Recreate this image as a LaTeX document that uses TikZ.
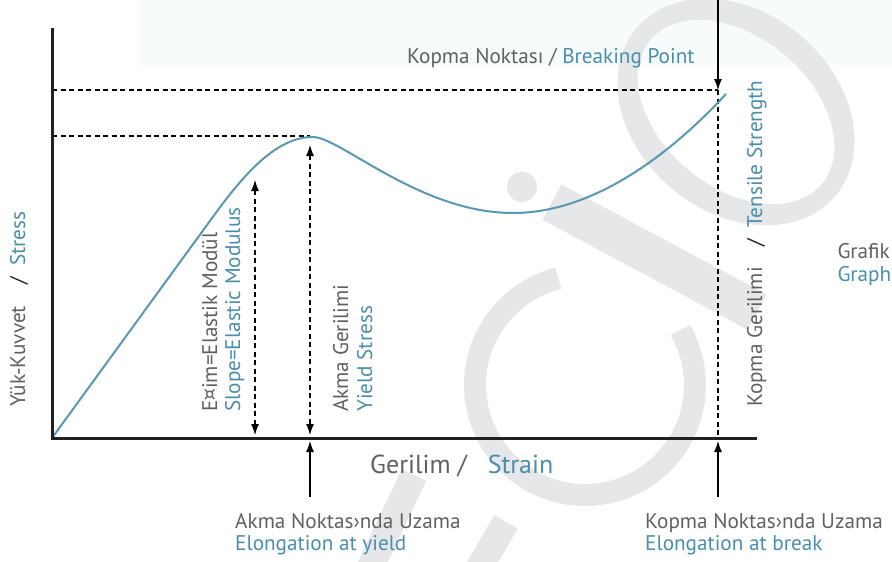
\documentclass[tikz,border=0pt]{standalone}
\usepackage{fontspec}
\setmainfont{PT Sans}
\usetikzlibrary{arrows.meta}
\definecolor{txtgray}{HTML}{5F6062}
\definecolor{txtblue}{HTML}{4A8EAB}
\definecolor{curveblue}{HTML}{5A97B1}
\definecolor{axiscol}{HTML}{231F20}
\definecolor{wm}{HTML}{E6E7E8}
\definecolor{topband}{HTML}{F8FBFC}
\begin{document}
\begin{tikzpicture}[x=1pt,y=-1pt,
  axisline/.style={axiscol, line width=3pt},
  guide/.style={black, line width=1.1pt, dash pattern=on 5pt off 3.5pt},
  arr/.style={black, line width=1.1pt},
  tipend/.style={-{Latex[length=11pt,width=8pt]}},
  tipboth/.style={{Latex[length=11pt,width=8pt]}-{Latex[length=11pt,width=8pt]}},
  curve/.style={curveblue, line width=2pt},
  lbl/.style={font=\fontsize{21.2}{23}\selectfont, inner sep=0pt},
  biglbl/.style={font=\fontsize{26}{28}\selectfont, inner sep=0pt},
  gr/.style={text=txtgray},
  bl/.style={text=txtblue}
]
\useasboundingbox (0,0) rectangle (892,562);
% faint top band
\fill[topband] (140,0) rectangle (892,65);
% watermark
\begin{scope}[shift={(736,112)}, rotate=-40]
\fill[wm, even odd rule] (0,0) ellipse [x radius=130pt, y radius=100pt]
      (0,0) ellipse [x radius=112pt, y radius=75pt];
\end{scope}
\draw[wm, line width=22pt] (558.4,278.3) arc [start angle=104, end angle=390, radius=110pt];
\draw[wm, line width=40pt] (552,202) -- (757,312);
\fill[wm] (522,187) circle [radius=15pt];
\draw[wm, line width=27pt] (414,475) -- (369,570);
\draw[wm, line width=27pt] (506,522) -- (478,570);
% coordinates
\coordinate (O) at (52,438);
\coordinate (ytop) at (52,28);
\coordinate (xend) at (757,438);
\coordinate (tsL) at (52,90);
\coordinate (bp) at (718,90);
\coordinate (bpTop) at (718,0);
\coordinate (ysL) at (52,136);
\coordinate (ysR) at (310,136);
\coordinate (yTop) at (310,145);
\coordinate (yBot) at (310,435);
\coordinate (eTop) at (255,180);
\coordinate (eBot) at (255,435);
\coordinate (bBot) at (718,438);
\coordinate (yaS) at (310,497);
\coordinate (yaT) at (310,441);
\coordinate (baS) at (718,497);
\coordinate (baT) at (718,441);
% guides
\draw[guide] (tsL) -- (bp);
\draw[guide] (ysL) -- (ysR);
\draw[guide] (bp) -- (bBot);
\draw[guide, tipboth] (yTop) -- (yBot);
\draw[guide, tipboth] (eTop) -- (eBot);
% curve
\draw[curve] (O) -- (215,214) .. controls (250,166) and (280,137) .. (313,137)
  .. controls (340,137) and (420,213) .. (513,213)
  .. controls (600,213) and (680,144) .. (726,94);
% axes
\draw[axisline] (ytop) -- (O) -- (xend);
% arrows
\draw[arr, tipend] (bpTop) -- (bp);
\draw[arr, tipend] (yaS) -- (yaT);
\draw[arr, tipend] (baS) -- (baT);
% labels
\node[lbl, anchor=base west] (breaking) at (407,63) {\color{txtgray}Kopma Noktası / \color{txtblue}Breaking Point};
\node[lbl, gr, rotate=90, anchor=base west] (ykv) at (25,407) {Yük-Kuvvet\quad\color{axiscol}/\ \ \color{txtblue}Stress};
\node[lbl, gr, rotate=90, anchor=base west] (egim) at (217,412) {E¤im=Elastik Modül};
\node[lbl, bl, rotate=90, anchor=base west] (slope) at (240,412) {Slope=Elastic Modulus};
\node[lbl, gr, rotate=90, anchor=base west] (akmag) at (348,412) {Akma Gerilimi};
\node[lbl, bl, rotate=90, anchor=base west] (yields) at (372,412) {Yield Stress};
\node[lbl, gr, rotate=90, anchor=base west] (kopmag) at (762,407) {Kopma Gerilimi\quad\color{axiscol}/\ \ \color{txtblue}Tensile Strength};
\node[biglbl, anchor=base west] (strain) at (370,473) {\color{txtgray}Gerilim /\ \ \ \color{txtblue}Strain};
\node[lbl, gr, anchor=base west] (akmau) at (235,528) {Akma Noktas›nda Uzama};
\node[lbl, bl, anchor=base west] (eyield) at (235,550) {Elongation at yield};
\node[lbl, gr, anchor=base west] (kopmau) at (645,528) {Kopma Noktas›nda Uzama};
\node[lbl, bl, anchor=base west] (ebreak) at (645,550) {Elongation at break};
\node[lbl, gr, anchor=base east] (grafik) at (890,258) {Grafik};
\node[lbl, bl, anchor=base west] (graph) at (grafik.base west) [yshift=-23pt] {Graph};
\end{tikzpicture}
\end{document}
